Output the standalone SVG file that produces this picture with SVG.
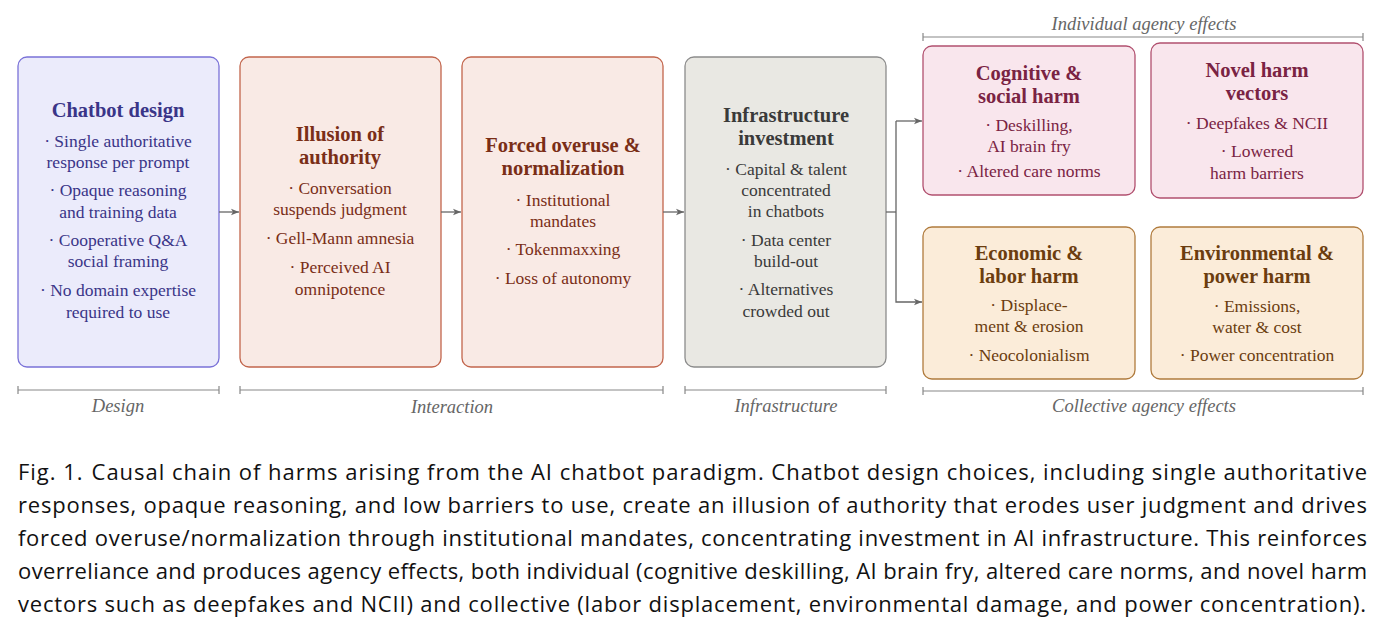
<svg xmlns="http://www.w3.org/2000/svg" width="1384" height="633" viewBox="0 0 1384 633">
<style>
.t{font-family:"Liberation Serif","DejaVu Serif",serif;text-anchor:middle}
.h{font-size:20.5px;font-weight:bold}
.b{font-size:17.5px}
.lab{font-family:"Liberation Serif","DejaVu Serif",serif;font-style:italic;font-size:18.5px;fill:#666;text-anchor:middle}
.br{stroke:#888;stroke-width:1.2;fill:none}
.con{stroke:#666;stroke-width:1.3;fill:none}
.cap{font-family:"Open Sans","Noto Sans",sans-serif;font-size:22px;fill:#111}
.blue rect{fill:#ebebfb;stroke:#7a72d8}
.blue text{fill:#3a3588}
.red rect{fill:#f9eae5;stroke:#c2654c}
.red text{fill:#7a2e17}
.gray rect{fill:#e9e8e3;stroke:#8c8c8c}
.gray text{fill:#3a3a3a}
.pink rect{fill:#f9e6ed;stroke:#b1506f}
.pink text{fill:#7a2343}
.tan rect{fill:#fbecd9;stroke:#b07b3d}
.tan text{fill:#6b3d0f}
rect{stroke-width:1.3}
</style>
<defs>
<marker id="ah" markerWidth="10" markerHeight="8" refX="9" refY="4" orient="auto" markerUnits="userSpaceOnUse">
<path d="M1,0.8 L9,4 L1,7.2 L3,4 Z" fill="#666"/>
</marker>
</defs>
<rect width="1384" height="633" fill="#fff"/>

<g id="design" class="blue">
<rect x="18" y="57" width="201" height="310" rx="9"/>
<text class="t h" x="118" y="117">Chatbot design</text>
<text class="t b" x="118" y="147">· Single authoritative</text>
<text class="t b" x="118" y="168">response per prompt</text>
<text class="t b" x="118" y="196">· Opaque reasoning</text>
<text class="t b" x="118" y="218">and training data</text>
<text class="t b" x="118" y="246">· Cooperative Q&amp;A</text>
<text class="t b" x="118" y="267">social framing</text>
<text class="t b" x="118" y="296">· No domain expertise</text>
<text class="t b" x="118" y="318">required to use</text>
</g>

<g id="illusion" class="red">
<rect x="240" y="57" width="201" height="310" rx="9"/>
<text class="t h" x="340" y="141">Illusion of</text>
<text class="t h" x="340" y="164">authority</text>
<text class="t b" x="340" y="194">· Conversation</text>
<text class="t b" x="340" y="215">suspends judgment</text>
<text class="t b" x="340" y="244">· Gell-Mann amnesia</text>
<text class="t b" x="340" y="273">· Perceived AI</text>
<text class="t b" x="340" y="295">omnipotence</text>
</g>

<g id="forced" class="red">
<rect x="462" y="57" width="201" height="310" rx="9"/>
<text class="t h" x="563" y="152">Forced overuse &amp;</text>
<text class="t h" x="563" y="175">normalization</text>
<text class="t b" x="563" y="206">· Institutional</text>
<text class="t b" x="563" y="227">mandates</text>
<text class="t b" x="563" y="255">· Tokenmaxxing</text>
<text class="t b" x="563" y="284">· Loss of autonomy</text>
</g>

<g id="infra" class="gray">
<rect x="685" y="57" width="201" height="310" rx="9"/>
<text class="t h" x="786" y="122">Infrastructure</text>
<text class="t h" x="786" y="145">investment</text>
<text class="t b" x="786" y="175">· Capital &amp; talent</text>
<text class="t b" x="786" y="196">concentrated</text>
<text class="t b" x="786" y="217">in chatbots</text>
<text class="t b" x="786" y="246">· Data center</text>
<text class="t b" x="786" y="267">build-out</text>
<text class="t b" x="786" y="295">· Alternatives</text>
<text class="t b" x="786" y="317">crowded out</text>
</g>

<g id="cognitive" class="pink">
<rect x="923" y="46" width="212" height="149" rx="9"/>
<text class="t h" x="1029" y="80">Cognitive &amp;</text>
<text class="t h" x="1029" y="103">social harm</text>
<text class="t b" x="1029" y="131">· Deskilling,</text>
<text class="t b" x="1029" y="152">AI brain fry</text>
<text class="t b" x="1029" y="177">· Altered care norms</text>
</g>

<g id="novel" class="pink">
<rect x="1151" y="43" width="212" height="155" rx="9"/>
<text class="t h" x="1257" y="77">Novel harm</text>
<text class="t h" x="1257" y="100">vectors</text>
<text class="t b" x="1257" y="129">· Deepfakes &amp; NCII</text>
<text class="t b" x="1257" y="157">· Lowered</text>
<text class="t b" x="1257" y="179">harm barriers</text>
</g>

<g id="economic" class="tan">
<rect x="923" y="227" width="212" height="152" rx="9"/>
<text class="t h" x="1029" y="260">Economic &amp;</text>
<text class="t h" x="1029" y="283">labor harm</text>
<text class="t b" x="1029" y="311">· Displace-</text>
<text class="t b" x="1029" y="332">ment &amp; erosion</text>
<text class="t b" x="1029" y="361">· Neocolonialism</text>
</g>

<g id="environmental" class="tan">
<rect x="1151" y="227" width="212" height="152" rx="9"/>
<text class="t h" x="1257" y="260">Environmental &amp;</text>
<text class="t h" x="1257" y="283">power harm</text>
<text class="t b" x="1257" y="312">· Emissions,</text>
<text class="t b" x="1257" y="333">water &amp; cost</text>
<text class="t b" x="1257" y="361">· Power concentration</text>
</g>

<g id="connectors">
<line class="con" x1="219" y1="212" x2="239" y2="212" marker-end="url(#ah)"/>
<line class="con" x1="441" y1="212" x2="461" y2="212" marker-end="url(#ah)"/>
<line class="con" x1="663" y1="212" x2="684" y2="212" marker-end="url(#ah)"/>
<line class="con" x1="886" y1="212" x2="896" y2="212"/>
<path class="con" d="M896,121 V302 H922" marker-end="url(#ah)"/>
<line class="con" x1="896" y1="121" x2="922" y2="121" marker-end="url(#ah)"/>
</g>

<g id="brackets">
<path class="br" d="M18,386 V394 M18,390 H219 M219,386 V394"/>
<path class="br" d="M240,386 V394 M240,390 H663 M663,386 V394"/>
<path class="br" d="M685,386 V394 M685,390 H886 M886,386 V394"/>
<path class="br" d="M923,387 V395 M923,391 H1363 M1363,387 V395"/>
<path class="br" d="M923,33 V41 M923,37 H1363 M1363,33 V41"/>
<text class="lab" x="118" y="412">Design</text>
<text class="lab" x="452" y="413">Interaction</text>
<text class="lab" x="786" y="412">Infrastructure</text>
<text class="lab" x="1144" y="412">Collective agency effects</text>
<text class="lab" x="1144" y="30">Individual agency effects</text>
</g>

<g id="caption">
<text class="cap" x="18" y="480" textLength="1349" lengthAdjust="spacing">Fig. 1.<tspan dx="8">Causal chain of harms arising from the AI chatbot paradigm. Chatbot design choices, including single authoritative</tspan></text>
<text class="cap" x="18" y="513" textLength="1349" lengthAdjust="spacing">responses, opaque reasoning, and low barriers to use, create an illusion of authority that erodes user judgment and drives</text>
<text class="cap" x="18" y="546" textLength="1349" lengthAdjust="spacing">forced overuse/normalization through institutional mandates, concentrating investment in AI infrastructure. This reinforces</text>
<text class="cap" x="18" y="579" textLength="1349" lengthAdjust="spacing">overreliance and produces agency effects, both individual (cognitive deskilling, AI brain fry, altered care norms, and novel harm</text>
<text class="cap" x="18" y="612" textLength="1348" lengthAdjust="spacing">vectors such as deepfakes and NCII) and collective (labor displacement, environmental damage, and power concentration).</text>
</g>
</svg>
